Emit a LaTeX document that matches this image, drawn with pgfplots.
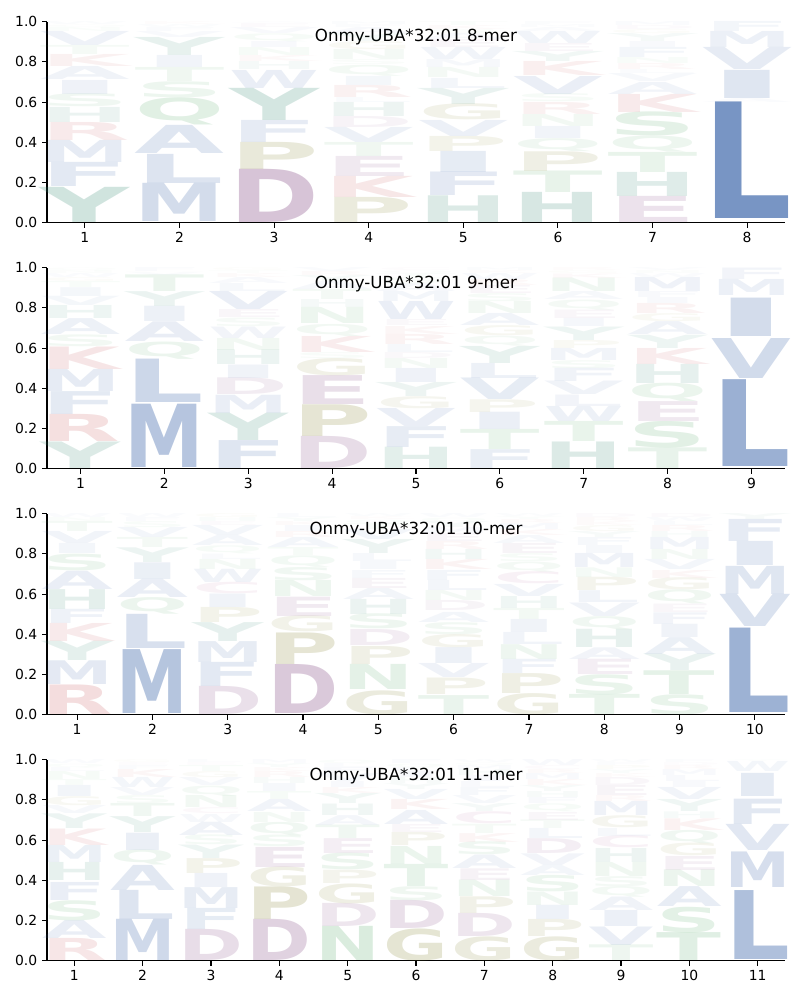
\documentclass[border=0pt]{standalone}
\usepackage{fontspec}
\setmainfont{DejaVu Sans}
\newfontfamily\logofont{DejaVu Sans}
\usepackage{graphicx}
\usepackage{pgfplots}
\usepackage{pgfplotstable}
\pgfplotsset{compat=1.18}

\definecolor{cL}{HTML}{4C72B0}
\colorlet{cM}{cL}\colorlet{cV}{cL}\colorlet{cI}{cL}\colorlet{cF}{cL}\colorlet{cW}{cL}\colorlet{cA}{cL}
\definecolor{cD}{RGB}{140,85,140}\colorlet{cE}{cD}
\definecolor{cK}{HTML}{C44E52}\colorlet{cR}{cK}
\definecolor{cH}{RGB}{50,135,112}\colorlet{cY}{cH}
\definecolor{cN}{HTML}{55A868}\colorlet{cQ}{cN}\colorlet{cS}{cN}\colorlet{cT}{cN}
\definecolor{cP}{RGB}{130,128,45}\colorlet{cG}{cP}
\definecolor{cC}{RGB}{170,80,140}

\pgfdeclareplotmark{nomark}{}

\pgfplotsset{
  logo/.style={
    scatter, only marks, mark=nomark, point meta=explicit symbolic,
    visualization depends on={(\thisrow{t}-\thisrow{b})*144.72 \as \hh},
    visualization depends on={min(1,1.3*(\thisrow{t}-\thisrow{b})) \as \op},
    scatter/@pre marker code/.code={%
      \edef\letr{\pgfplotspointmeta}%
      \node[anchor=south, inner sep=0pt, outer sep=0pt, text=c\letr, opacity=\op]
        at (0,0) {\resizebox*{\lw}{\hh pt}{\logofont\bfseries\letr}};
    },
    scatter/@post marker code/.code={},
  },
  panel/.style={
    disabledatascaling,
    scale only axis, width=531.36pt, height=144.72pt,
    anchor=south west,
    axis x line*=bottom, axis y line*=left,
    ymin=0, ymax=1, xmin=0.6,
    ytick={0,0.2,0.4,0.6,0.8,1},
    yticklabel style={/pgf/number format/.cd, fixed, fixed zerofill, precision=1},
    /pgf/number format/assume math mode=true,
    tick align=outside, major tick length=3.5pt,
    tick style={black, line width=0.8pt},
    axis line style={black, line width=0.8pt},
    ticklabel style={font=\fontsize{10}{12}\selectfont},
  }
}
\newcommand{\paneltitle}[1]{\node[anchor=base, inner sep=0pt, font=\fontsize{12}{14}\selectfont] at (axis description cs:0.5,0.899) {#1};}

\pgfplotstableread{
x b t a
1 0 0.175 Y
1 0.18 0.30 F
1 0.30 0.41 M
1 0.41 0.50 R
1 0.50 0.575 H
1 0.575 0.64 S
1 0.64 0.71 I
1 0.71 0.775 A
1 0.775 0.835 K
1 0.835 0.88 T
1 0.88 0.95 V
1 0.95 0.97 N
1 0.97 0.985 Q
1 0.985 1 W
2 0.005 0.195 M
2 0.195 0.34 L
2 0.345 0.485 A
2 0.485 0.62 Q
2 0.62 0.70 S
2 0.70 0.77 T
2 0.77 0.83 I
2 0.83 0.92 Y
2 0.92 0.95 V
2 0.95 0.97 F
2 0.97 0.985 W
2 0.985 1 K
3 0 0.265 D
3 0.265 0.40 P
3 0.40 0.51 F
3 0.51 0.67 Y
3 0.67 0.76 W
3 0.76 0.80 H
3 0.80 0.83 K
3 0.83 0.87 N
3 0.87 0.90 I
3 0.90 0.94 Q
3 0.94 0.97 V
3 0.97 0.99 E
3 0.99 1 A
4 0 0.125 P
4 0.125 0.23 K
4 0.23 0.33 E
4 0.33 0.40 T
4 0.40 0.475 V
4 0.475 0.53 D
4 0.53 0.60 H
4 0.60 0.625 L
4 0.625 0.685 R
4 0.685 0.73 I
4 0.73 0.785 Q
4 0.785 0.81 S
4 0.81 0.86 N
4 0.86 0.90 G
4 0.90 0.94 Y
4 0.94 0.97 A
4 0.97 0.985 F
4 0.985 1 M
5 0 0.133 H
5 0.133 0.25 F
5 0.25 0.355 I
5 0.355 0.43 P
5 0.43 0.51 V
5 0.51 0.59 G
5 0.59 0.67 Y
5 0.67 0.72 L
5 0.72 0.77 N
5 0.77 0.81 M
5 0.81 0.87 W
5 0.87 0.91 E
5 0.91 0.94 A
5 0.94 0.96 S
5 0.96 0.98 K
5 0.98 1 T
6 0 0.15 H
6 0.15 0.257 T
6 0.257 0.355 P
6 0.355 0.42 Q
6 0.42 0.48 I
6 0.48 0.54 N
6 0.54 0.60 R
6 0.60 0.64 S
6 0.64 0.73 V
6 0.73 0.80 K
6 0.80 0.85 Y
6 0.85 0.89 E
6 0.89 0.95 W
6 0.95 0.97 A
6 0.97 0.985 M
6 0.985 1 F
7 0 0.13 E
7 0.13 0.25 H
7 0.25 0.35 T
7 0.35 0.43 Q
7 0.43 0.55 S
7 0.55 0.64 K
7 0.64 0.70 A
7 0.70 0.74 V
7 0.74 0.76 L
7 0.76 0.79 R
7 0.79 0.82 N
7 0.82 0.87 F
7 0.87 0.90 I
7 0.90 0.94 Y
7 0.94 0.96 G
7 0.96 0.98 D
7 0.98 1 M
8 0.02 0.60 L
8 0.60 0.62 A
8 0.62 0.76 I
8 0.76 0.87 V
8 0.87 0.95 M
8 0.95 1 F
}\logoA

\pgfplotstableread{
x b t a
1 0 0.132 Y
1 0.135 0.27 R
1 0.27 0.384 F
1 0.385 0.495 M
1 0.495 0.607 K
1 0.607 0.666 S
1 0.666 0.745 A
1 0.745 0.81 H
1 0.81 0.856 V
1 0.856 0.90 I
1 0.90 0.93 T
1 0.93 0.95 G
1 0.95 0.97 W
1 0.97 0.985 N
1 0.985 1 Q
2 0.008 0.323 M
2 0.33 0.546 L
2 0.546 0.632 Q
2 0.632 0.73 A
2 0.73 0.806 I
2 0.806 0.88 Y
2 0.88 0.963 T
2 0.963 0.98 V
2 0.98 1 F
3 0 0.139 F
3 0.14 0.276 Y
3 0.276 0.367 M
3 0.367 0.45 D
3 0.45 0.517 I
3 0.517 0.59 H
3 0.59 0.65 N
3 0.65 0.707 W
3 0.707 0.75 S
3 0.75 0.79 E
3 0.79 0.88 V
3 0.88 0.92 L
3 0.92 0.95 A
3 0.95 0.97 K
3 0.97 0.985 T
3 0.985 1 G
4 0 0.16 D
4 0.16 0.318 P
4 0.32 0.464 E
4 0.464 0.55 G
4 0.55 0.58 S
4 0.58 0.66 K
4 0.66 0.72 Q
4 0.72 0.80 N
4 0.80 0.84 H
4 0.84 0.89 T
4 0.89 0.93 A
4 0.93 0.96 Y
4 0.96 0.98 R
4 0.98 1 V
5 0 0.106 H
5 0.106 0.21 F
5 0.21 0.30 V
5 0.30 0.36 G
5 0.36 0.43 Y
5 0.43 0.50 I
5 0.50 0.55 N
5 0.55 0.58 D
5 0.58 0.62 L
5 0.62 0.67 R
5 0.67 0.71 K
5 0.71 0.74 E
5 0.74 0.83 W
5 0.83 0.88 M
5 0.88 0.92 A
5 0.92 0.95 S
5 0.95 0.97 T
5 0.97 0.985 Q
5 0.985 1 C
6 0 0.094 F
6 0.094 0.194 T
6 0.194 0.28 I
6 0.28 0.343 P
6 0.343 0.45 V
6 0.45 0.525 L
6 0.525 0.61 Y
6 0.61 0.66 Q
6 0.66 0.71 G
6 0.71 0.77 A
6 0.77 0.83 N
6 0.83 0.87 S
6 0.87 0.91 E
6 0.91 0.94 R
6 0.94 0.97 W
6 0.97 0.985 K
6 0.985 1 M
7 0 0.132 H
7 0.135 0.235 T
7 0.235 0.31 W
7 0.31 0.367 L
7 0.367 0.434 V
7 0.434 0.50 F
7 0.50 0.54 S
7 0.54 0.60 M
7 0.60 0.64 P
7 0.64 0.707 Y
7 0.707 0.748 I
7 0.748 0.79 E
7 0.79 0.84 Q
7 0.84 0.88 A
7 0.88 0.947 N
7 0.947 0.97 K
7 0.97 0.985 G
7 0.985 1 R
8 0 0.103 T
8 0.103 0.235 S
8 0.235 0.334 E
8 0.334 0.425 Q
8 0.425 0.52 H
8 0.52 0.60 K
8 0.60 0.666 Y
8 0.666 0.73 A
8 0.73 0.77 G
8 0.77 0.82 R
8 0.82 0.85 I
8 0.85 0.88 F
8 0.88 0.95 M
8 0.95 0.97 W
8 0.97 0.985 N
8 0.985 1 V
9 0.01 0.442 L
9 0.45 0.649 V
9 0.66 0.851 I
9 0.86 0.94 M
9 0.94 0.997 F
}\logoB

\pgfplotstableread{
x b t a
1 0 0.147 R
1 0.15 0.268 M
1 0.268 0.364 Y
1 0.364 0.454 K
1 0.454 0.525 F
1 0.525 0.624 H
1 0.624 0.715 A
1 0.715 0.798 S
1 0.80 0.85 I
1 0.85 0.91 V
1 0.91 0.96 T
1 0.96 0.98 N
1 0.98 1 W
2 0.008 0.326 M
2 0.33 0.50 L
2 0.50 0.583 Q
2 0.583 0.674 A
2 0.674 0.757 I
2 0.757 0.83 Y
2 0.83 0.88 T
2 0.88 0.93 V
2 0.93 0.96 S
2 0.96 0.98 F
2 0.98 1 W
3 0 0.14 D
3 0.14 0.26 F
3 0.26 0.364 M
3 0.364 0.458 Y
3 0.458 0.533 P
3 0.533 0.60 I
3 0.60 0.657 C
3 0.657 0.723 W
3 0.723 0.773 N
3 0.773 0.80 L
3 0.80 0.84 Q
3 0.84 0.89 A
3 0.89 0.94 V
3 0.94 0.96 E
3 0.96 0.98 H
3 0.98 1 G
4 0.008 0.252 D
4 0.252 0.409 P
4 0.41 0.49 G
4 0.49 0.586 E
4 0.586 0.666 N
4 0.666 0.732 S
4 0.732 0.79 Q
4 0.79 0.83 T
4 0.83 0.88 A
4 0.88 0.91 R
4 0.91 0.94 I
4 0.94 0.96 K
4 0.96 0.98 Y
4 0.98 1 L
5 0 0.12 G
5 0.125 0.25 N
5 0.25 0.34 P
5 0.345 0.425 D
5 0.425 0.50 S
5 0.50 0.575 H
5 0.575 0.63 A
5 0.63 0.68 E
5 0.68 0.72 F
5 0.72 0.76 I
5 0.76 0.80 L
5 0.80 0.87 Y
5 0.87 0.92 V
5 0.92 0.95 T
5 0.95 0.97 Q
5 0.97 0.985 K
5 0.985 1 W
6 0 0.094 T
6 0.103 0.185 P
6 0.185 0.255 V
6 0.255 0.334 I
6 0.334 0.40 G
6 0.40 0.46 S
6 0.46 0.51 A
6 0.52 0.57 D
6 0.57 0.62 N
6 0.62 0.67 L
6 0.67 0.72 F
6 0.72 0.77 K
6 0.77 0.82 H
6 0.82 0.86 R
6 0.86 0.90 E
6 0.90 0.93 M
6 0.93 0.96 Y
6 0.96 0.98 Q
6 0.98 1 W
7 0 0.106 G
7 0.106 0.205 P
7 0.205 0.276 F
7 0.276 0.35 N
7 0.35 0.41 L
7 0.41 0.475 I
7 0.475 0.53 T
7 0.53 0.59 H
7 0.59 0.65 V
7 0.65 0.71 C
7 0.71 0.76 Q
7 0.76 0.80 S
7 0.80 0.85 E
7 0.85 0.89 A
7 0.89 0.92 K
7 0.92 0.95 M
7 0.95 0.97 R
7 0.97 0.985 Y
7 0.985 1 W
8 0 0.10 T
8 0.10 0.20 S
8 0.20 0.276 E
8 0.276 0.334 A
8 0.334 0.425 H
8 0.425 0.49 Q
8 0.49 0.557 V
8 0.557 0.616 L
8 0.616 0.682 P
8 0.682 0.73 N
8 0.73 0.80 M
8 0.80 0.84 I
8 0.84 0.88 F
8 0.88 0.91 Y
8 0.91 0.94 G
8 0.94 0.96 K
8 0.96 0.98 R
8 0.98 1 D
9 0 0.10 S
9 0.10 0.218 T
9 0.218 0.30 Y
9 0.30 0.384 A
9 0.384 0.45 I
9 0.45 0.508 F
9 0.508 0.55 E
9 0.55 0.62 Q
9 0.62 0.68 G
9 0.68 0.72 K
9 0.72 0.77 V
9 0.77 0.82 N
9 0.82 0.88 M
9 0.88 0.91 H
9 0.91 0.94 R
9 0.94 0.96 L
9 0.96 0.98 W
9 0.98 1 D
10 0.01 0.43 L
10 0.44 0.60 V
10 0.60 0.74 M
10 0.74 0.86 I
10 0.86 0.97 F
10 0.97 1 Y
}\logoC

\pgfplotstableread{
x b t a
1 0 0.11 R
1 0.11 0.20 A
1 0.20 0.30 S
1 0.30 0.39 F
1 0.40 0.49 H
1 0.49 0.575 M
1 0.575 0.657 K
1 0.657 0.73 Y
1 0.73 0.77 V
1 0.77 0.815 G
1 0.815 0.87 I
1 0.87 0.90 T
1 0.90 0.94 N
1 0.94 0.96 L
1 0.96 0.98 Q
1 0.98 1 W
2 0 0.205 M
2 0.205 0.35 L
2 0.35 0.475 A
2 0.475 0.55 Q
2 0.55 0.636 I
2 0.636 0.715 Y
2 0.715 0.78 T
2 0.78 0.82 S
2 0.82 0.86 V
2 0.86 0.91 W
2 0.91 0.95 K
2 0.95 0.97 F
2 0.97 0.985 E
2 0.985 1 G
3 0 0.155 D
3 0.155 0.26 F
3 0.26 0.364 M
3 0.364 0.434 I
3 0.434 0.508 P
3 0.508 0.575 Y
3 0.575 0.624 S
3 0.624 0.69 A
3 0.69 0.73 W
3 0.73 0.76 C
3 0.76 0.82 N
3 0.82 0.87 Q
3 0.87 0.91 V
3 0.91 0.94 G
3 0.94 0.97 T
3 0.97 0.985 E
3 0.985 1 L
4 0 0.205 D
4 0.205 0.367 P
4 0.367 0.466 G
4 0.466 0.566 E
4 0.566 0.624 S
4 0.624 0.69 Q
4 0.69 0.74 N
4 0.74 0.80 A
4 0.80 0.84 T
4 0.84 0.88 I
4 0.88 0.91 H
4 0.91 0.94 R
4 0.94 0.96 K
4 0.96 0.98 Y
4 0.98 1 M
5 0 0.17 N
5 0.17 0.285 D
5 0.285 0.384 G
5 0.384 0.45 P
5 0.45 0.533 S
5 0.533 0.607 E
5 0.607 0.674 T
5 0.674 0.723 A
5 0.723 0.78 H
5 0.78 0.83 Y
5 0.83 0.86 K
5 0.86 0.89 I
5 0.89 0.93 V
5 0.93 0.96 F
5 0.96 0.98 L
5 0.98 1 Q
6 0 0.16 G
6 0.16 0.30 D
6 0.30 0.37 S
6 0.37 0.48 T
6 0.48 0.57 N
6 0.575 0.64 P
6 0.64 0.68 E
6 0.68 0.75 A
6 0.75 0.80 K
6 0.80 0.85 V
6 0.85 0.88 Y
6 0.88 0.91 H
6 0.91 0.94 I
6 0.94 0.96 L
6 0.96 0.98 Q
6 0.98 1 F
7 0 0.12 G
7 0.12 0.235 D
7 0.235 0.318 P
7 0.318 0.40 N
7 0.40 0.458 E
7 0.458 0.525 A
7 0.525 0.59 S
7 0.59 0.634 K
7 0.634 0.68 T
7 0.68 0.74 C
7 0.74 0.78 Y
7 0.78 0.82 V
7 0.82 0.86 F
7 0.86 0.89 L
7 0.89 0.92 I
7 0.92 0.95 H
7 0.95 0.97 M
7 0.97 0.985 Q
7 0.985 1 W
8 0 0.12 G
8 0.12 0.205 P
8 0.205 0.276 I
8 0.276 0.343 N
8 0.343 0.425 S
8 0.425 0.475 A
8 0.475 0.533 V
8 0.533 0.607 D
8 0.607 0.657 L
8 0.657 0.70 T
8 0.70 0.74 E
8 0.74 0.78 Q
8 0.78 0.81 F
8 0.81 0.84 H
8 0.84 0.87 Y
8 0.87 0.90 K
8 0.90 0.93 M
8 0.93 0.95 R
8 0.95 0.97 C
8 0.97 1 W
9 0 0.078 T
9 0.078 0.17 V
9 0.17 0.25 I
9 0.25 0.317 A
9 0.317 0.37 Q
9 0.37 0.42 S
9 0.42 0.49 N
9 0.49 0.56 H
9 0.56 0.62 C
9 0.62 0.66 L
9 0.66 0.72 G
9 0.72 0.79 M
9 0.79 0.82 R
9 0.82 0.87 E
9 0.87 0.91 D
9 0.91 0.93 K
9 0.93 0.95 Y
9 0.95 0.97 P
9 0.97 0.985 F
9 0.985 1 W
10 0 0.139 T
10 0.14 0.268 S
10 0.268 0.367 A
10 0.367 0.45 N
10 0.45 0.52 E
10 0.52 0.583 G
10 0.583 0.649 Q
10 0.649 0.707 K
10 0.707 0.74 H
10 0.74 0.80 Y
10 0.80 0.86 V
10 0.86 0.89 I
10 0.89 0.92 L
10 0.92 0.95 M
10 0.95 0.97 R
10 0.97 0.985 D
10 0.985 1 F
11 0.007 0.35 L
11 0.365 0.542 M
11 0.55 0.68 V
11 0.68 0.806 F
11 0.815 0.93 I
11 0.94 0.99 W
11 0.99 1 Y
}\logoD

\begin{document}
\begin{tikzpicture}
\path[use as bounding box] (0,0) rectangle (576pt,-720pt);

\def\lw{64.7pt}
\begin{axis}[panel, at={(33.84pt,-160.34pt)}, xmax=8.4, xtick={1,...,8}]
\addplot[logo] table[x=x, y=b, meta=a] {\logoA};
\paneltitle{Onmy-UBA*32:01 8-mer}
\end{axis}

\def\lw{57.4pt}
\begin{axis}[panel, at={(33.84pt,-337.46pt)}, xmax=9.4, xtick={1,...,9}]
\addplot[logo] table[x=x, y=b, meta=a] {\logoB};
\paneltitle{Onmy-UBA*32:01 9-mer}
\end{axis}

\def\lw{51.5pt}
\begin{axis}[panel, at={(33.84pt,-514.58pt)}, xmax=10.4, xtick={1,...,10}]
\addplot[logo] table[x=x, y=b, meta=a] {\logoC};
\paneltitle{Onmy-UBA*32:01 10-mer}
\end{axis}

\def\lw{46.7pt}
\begin{axis}[panel, at={(33.84pt,-691.70pt)}, xmax=11.4, xtick={1,...,11}]
\addplot[logo] table[x=x, y=b, meta=a] {\logoD};
\paneltitle{Onmy-UBA*32:01 11-mer}
\end{axis}
\end{tikzpicture}
\end{document}
